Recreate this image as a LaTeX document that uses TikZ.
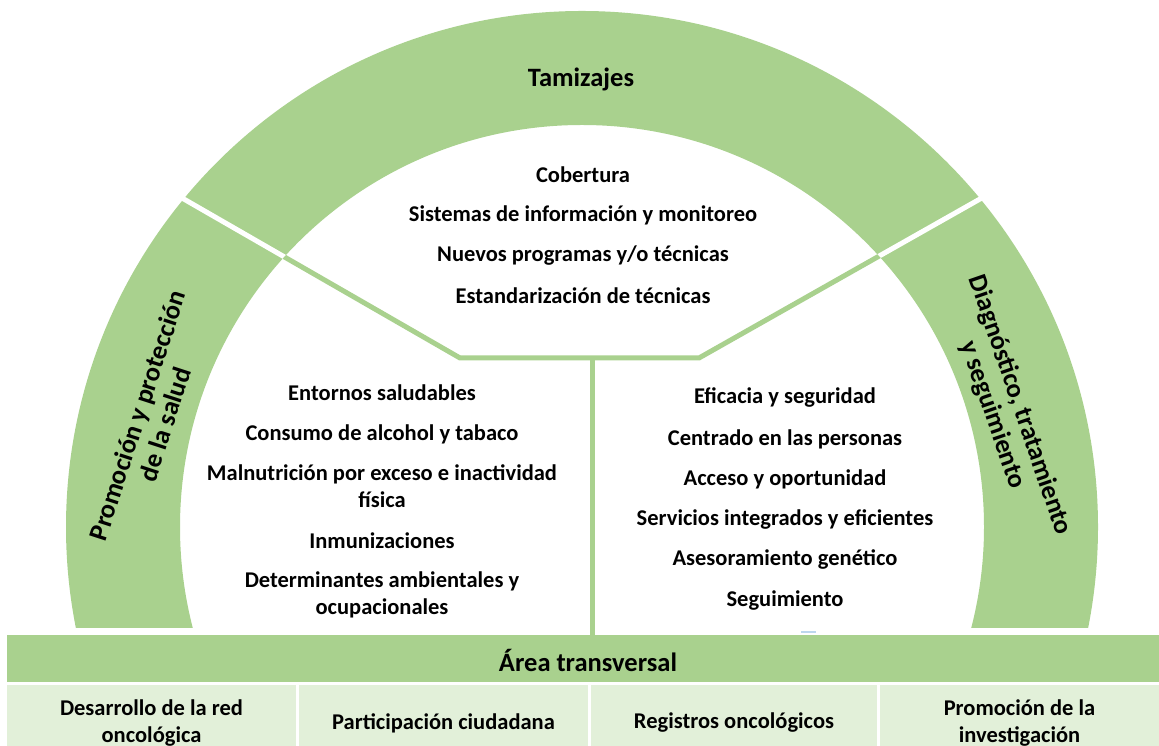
\documentclass[tikz,border=0pt]{standalone}
\usepackage{fontspec}
\setmainfont{Carlito}
\definecolor{bandgreen}{HTML}{A9D18E}
\definecolor{cellgreen}{HTML}{E2F0D9}
\definecolor{specks}{HTML}{BDD7EE}

\begin{document}
\begin{tikzpicture}[x=1pt,y=1pt,
	every node/.style={font=\fontsize{22.5}{27}\selectfont\bfseries,align=center,inner sep=0pt},
	title/.style={font=\fontsize{26.5}{29}\selectfont\bfseries},
	band/.style={fill=bandgreen},
	cell/.style={fill=cellgreen},
	gap/.style={white,line width=5pt},
	rib/.style={bandgreen,line width=5pt}]
\useasboundingbox (0,0) rectangle (1159,746);
\def\cx{582}
\def\cy{219}
\def\rout{516}
\def\rin{402}

\coordinate (c) at (\cx,\cy);
\coordinate (lo) at (182,548);
\coordinate (lc) at (460,388);
\coordinate (rc) at (699,388);
\coordinate (ro) at (980,547);
\coordinate (mtop) at (592,390);
\coordinate (mbot) at (592,111);

\begin{scope}
	\clip (0,118) rectangle (1159,746);
	\fill[band,even odd rule] (c) circle[radius=\rout] (c) circle[radius=\rin];
\end{scope}
\draw[gap,shorten <=-6pt] (lo)--(lc);
\draw[gap,shorten <=-6pt] (ro)--(rc);
\begin{scope}
	\clip (c) circle[radius=\rin];
	\draw[rib] (lo)--(lc)--(rc)--(ro);
\end{scope}
\draw[rib] (mtop)--(mbot);

\fill[band] (7,64) rectangle (1159,111);
\foreach \a/\b/\t [count=\i] in {7/296/{Desarrollo de la red\\oncológica},299/588/Participación ciudadana,591/877/Registros oncológicos,880/1159/{Promoción de la\\investigación}}
{
	\fill[cell] (\a,0) rectangle (\b,61);
	\node (cell\i) at ({(\a+\b)/2},23) {\t};
}
\draw[specks,line width=1.2pt] (801,114)--(816,114);

\node (tam) at (581,667) [title] {Tamizajes};
\node (promo) at (151,326) [title,rotate=72] {Promoción y protección\\de la salud};
\node (diag) at (1006,336) [title,rotate=-71] {Diagnóstico, tratamiento\\y seguimiento};
\node (area) at (588,86) [title] {Área transversal};

\foreach \y/\t [count=\i] in {571/Cobertura,531/Sistemas de información y monitoreo,490/{Nuevos programas y/o técnicas},450/Estandarización de técnicas}
	\node (top\i) at (583,\y) {\t};
\foreach \y/\t [count=\i] in {353/Entornos saludables,312/Consumo de alcohol y tabaco,259.5/{Malnutrición por exceso e inactividad\\física},205/Inmunizaciones,151.5/{Determinantes ambientales y\\ocupacionales}}
	\node (left\i) at (382,\y) {\t};
\foreach \y/\t [count=\i] in {348/Eficacia y seguridad,307/Centrado en las personas,267/Acceso y oportunidad,226/Servicios integrados y eficientes,186/Asesoramiento genético,145/Seguimiento}
	\node (right\i) at (785,\y) {\t};

\end{tikzpicture}
\end{document}
